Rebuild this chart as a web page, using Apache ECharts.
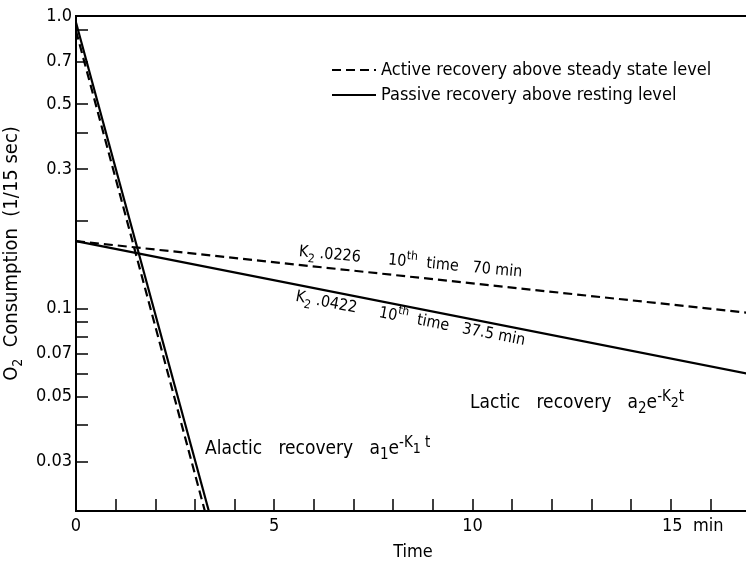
<!DOCTYPE html>
<html>
<head>
<meta charset="utf-8">
<script src="https://cdn.jsdelivr.net/npm/echarts@6/dist/echarts.min.js"></script>
<style>
  html, body { margin: 0; padding: 0; background: #fff; }
  #chart { width: 746px; height: 564px; }
</style>
</head>
<body>
<div id="chart"></div>
<script>
const FONT = '"DejaVu Sans Condensed", "DejaVu Sans", sans-serif';

// time (min) and O2 consumption (per 1/15 sec)
const alacticActiveT = [0, 3.25];
const alacticActiveV = [0.89, 0.0203];
const alacticPassiveT = [0, 3.35];
const alacticPassiveV = [0.95, 0.0203];
const lacticActiveT = [0, 17];
const lacticActiveV = [0.17, 0.0965];
const lacticPassiveT = [0, 17];
const lacticPassiveV = [0.17, 0.0596];

const yTickValues = [1.0, 0.9, 0.7, 0.5, 0.4, 0.3, 0.2, 0.1, 0.09, 0.08, 0.07, 0.06, 0.05, 0.04, 0.03];
const yLabelValues = [1.0, 0.7, 0.5, 0.3, 0.1, 0.07, 0.05, 0.03];
const yLabelText = ['1.0', '0.7', '0.5', '0.3', '0.1', '0.07', '0.05', '0.03'];
const xLabelText = { 0: '0', 5: '5', 10: '10', 15: '{m|15  min}' };
const yMin = 0.0203;
const xMax = 17;

const ACTIVE = 'Active recovery above steady state level';
const PASSIVE = 'Passive recovery above resting level';

const log10 = v => Math.log10(v);
const pairs = (ts, vs) => ts.map((t, i) => [t, log10(vs[i])]);

const chart = echarts.init(document.getElementById('chart'));

const rich = (size) => ({
  n: { fontSize: size, lineHeight: size + 8, verticalAlign: 'middle', fontFamily: FONT, color: '#000' },
  s: { fontSize: size - 4, lineHeight: size - 4, verticalAlign: 'bottom', fontFamily: FONT, color: '#000' },
  p: { fontSize: size - 4, lineHeight: size - 4, verticalAlign: 'top', fontFamily: FONT, color: '#000' },
  q: { fontSize: size - 5, lineHeight: size - 5, verticalAlign: 'middle', fontFamily: FONT, color: '#000' }
});

const lineSeries = (name, data, dashed) => ({
  name,
  type: 'line',
  data,
  symbol: 'none',
  color: '#000',
  lineStyle: { color: '#000', width: 2.2, type: dashed ? [9, 5] : 'solid' },
  silent: true
});

const option = {
  animation: false,
  backgroundColor: '#fff',
  textStyle: { fontFamily: FONT, color: '#000' },
  grid: {
    left: 76, right: -4, top: 16, bottom: 53,
    outerBoundsMode: 'none', containLabel: false,
    show: true, borderColor: '#000', borderWidth: 2
  },
  legend: {
    data: [ACTIVE, PASSIVE],
    orient: 'vertical',
    left: 326,
    top: 56,
    itemWidth: 44,
    itemHeight: 18,
    itemGap: 7,
    itemStyle: { color: 'transparent', borderColor: 'transparent', borderWidth: 0 },
    textStyle: { fontSize: 18, fontFamily: FONT, color: '#000' }
  },
  xAxis: {
    type: 'value',
    min: 0,
    max: xMax,
    interval: 1,
    name: 'Time',
    nameLocation: 'middle',
    nameGap: 32,
    nameTextStyle: { fontSize: 18, fontFamily: FONT, color: '#000' },
    axisLine: { onZero: false, lineStyle: { color: '#000', width: 2 } },
    axisTick: { show: true, inside: true, length: 12, lineStyle: { color: '#000', width: 1.5 } },
    axisLabel: {
      fontSize: 18, color: '#000', fontFamily: FONT, margin: 6,
      formatter: v => xLabelText[v] || '',
      rich: { m: { fontSize: 18, fontFamily: FONT, color: '#000', padding: [0, 0, 0, 44] } }
    },
    splitLine: { show: false }
  },
  yAxis: {
    type: 'value',
    min: log10(yMin),
    max: 0,
    name: '{n|O}{s|2}{n|  Consumption  (1/15 sec)}',
    nameLocation: 'middle',
    nameGap: 42,
    nameTextStyle: {
      padding: [0, 0, 0, 20],
      rich: {
        n: { fontSize: 20, lineHeight: 26, verticalAlign: 'middle', fontFamily: FONT, color: '#000' },
        s: { fontSize: 14, lineHeight: 14, verticalAlign: 'bottom', fontFamily: FONT, color: '#000' }
      }
    },
    axisLine: { show: true, onZero: false, lineStyle: { color: '#000', width: 2 } },
    axisTick: { inside: true, length: 12, customValues: yTickValues.map(log10), lineStyle: { color: '#000', width: 1.5 } },
    axisLabel: {
      customValues: yLabelValues.map(log10),
      fontSize: 18, color: '#000', fontFamily: FONT, margin: 4,
      formatter: v => {
        const x = Math.pow(10, v);
        let best = 0;
        yLabelValues.forEach((l, i) => { if (Math.abs(l - x) < Math.abs(yLabelValues[best] - x)) best = i; });
        return yLabelText[best];
      }
    },
    splitLine: { show: false }
  },
  series: [
    lineSeries(ACTIVE, pairs(alacticActiveT, alacticActiveV), true),
    lineSeries(PASSIVE, pairs(alacticPassiveT, alacticPassiveV), false),
    lineSeries(ACTIVE, pairs(lacticActiveT, lacticActiveV), true),
    lineSeries(PASSIVE, pairs(lacticPassiveT, lacticPassiveV), false)
  ],
  graphic: [
    { type: 'text', x: 300, y: 240, rotation: -0.092, silent: true,
      style: { text: '{n|K}{s|2}{n| .0226      10}{p|th}{n|  time   70 min}', rich: rich(16) } },
    { type: 'text', x: 298, y: 285, rotation: -0.19, silent: true,
      style: { text: '{n|K}{s|2}{n| .0422     10}{p|th}{n|  time   37.5 min}', rich: rich(16) } },
    { type: 'text', x: 470, y: 390, silent: true,
      style: { text: '{n|Lactic   recovery   a}{s|2}{n|e}{p|-K}{q|2}{p|t}', rich: rich(19) } },
    { type: 'text', x: 205, y: 436, silent: true,
      style: { text: '{n|Alactic   recovery   a}{s|1}{n|e}{p|-K}{q|1}{p| t}', rich: rich(19) } }
  ]
};

chart.setOption(option);
</script>
</body>
</html>
